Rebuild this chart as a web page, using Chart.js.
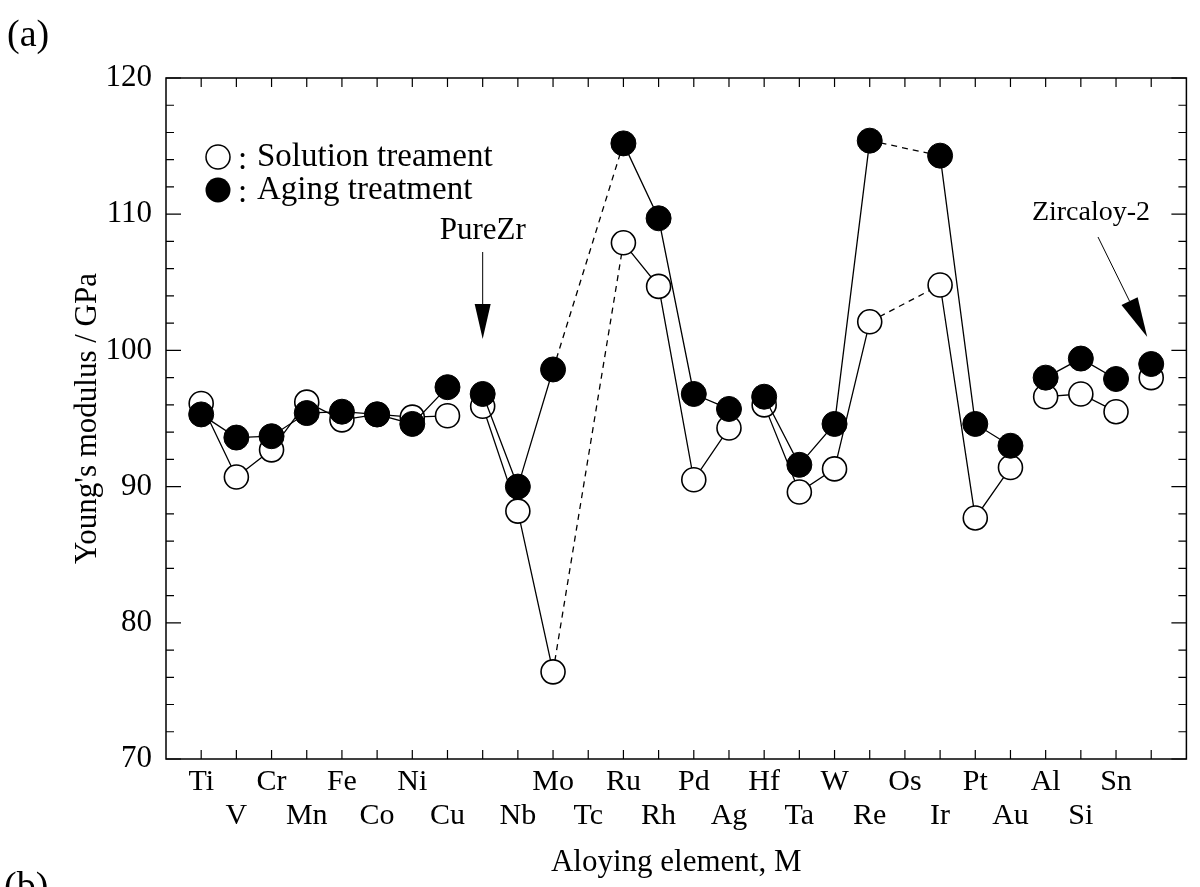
<!DOCTYPE html>
<html>
<head>
<meta charset="utf-8">
<script src="https://cdn.jsdelivr.net/npm/chart.js@4.4.1/dist/chart.umd.min.js"></script>
<style>
  html, body { margin: 0; padding: 0; background: #fff; }
  canvas { display: block; }
</style>
</head>
<body>
<canvas id="modulusChart" width="1200" height="887"></canvas>
<script>
// alloying elements, in axis order (PureZr and Zircaloy-2 have no tick label)
const elements = ["Ti", "V", "Cr", "Mn", "Fe", "Co", "Ni", "Cu", "", "Nb", "Mo", "Tc", "Ru", "Rh",
    "Pd", "Ag", "Hf", "Ta", "W", "Re", "Os", "Ir", "Pt", "Au", "Al", "Si", "Sn", ""];

// Young's modulus / GPa
const solutionTreatment = [96.1, 90.7, 92.7, 96.2, 94.9, 95.3, 95.1, 95.2, 95.9, 88.2, 76.4, null, 107.9, 104.7,
    90.5, 94.3, 96.0, 89.6, 91.3, 102.1, null, 104.8, 87.7, 91.4, 96.6, 96.8, 95.5, 98.0];
const agingTreatment = [95.3, 93.6, 93.7, 95.4, 95.5, 95.3, 94.6, 97.3, 96.8, 90.0, 98.6, null, 115.2, 109.7,
    96.8, 95.7, 96.6, 91.6, 94.6, 115.4, null, 114.3, 94.6, 93.0, 98.0, 99.4, 97.9, 99.0];

// no line drawn from these indices to the next point
const breakAfter = [7, 15, 23, 26];

const yTicks = [70, 80, 90, 100, 110, 120];

const FONT = "'Liberation Serif', 'DejaVu Serif', serif";

function toPoints(values) {
    return values.map((v, i) => ({ x: i + 1, y: v }));
}

// segments bridging a missing element (Tc, Os) are dashed
const segmentStyle = {
    borderDash: ctx => (elements[ctx.p0DataIndex] && solutionTreatment[ctx.p0DataIndex] === null ? [6, 5] : undefined),
    borderColor: ctx => (breakAfter.includes(ctx.p0DataIndex) ? "rgba(0,0,0,0)" : undefined)
};

const framePlugin = {
    id: "frame",
    afterDraw(chart) {
        const ctx = chart.ctx;
        const area = chart.chartArea;
        const xs = chart.scales.x;
        const ys = chart.scales.y;
        ctx.save();
        ctx.strokeStyle = "#000";
        ctx.lineWidth = 1.5;
        ctx.strokeRect(area.left, area.top, area.right - area.left, area.bottom - area.top);

        // inward tick marks
        ctx.lineWidth = 1.2;
        ctx.beginPath();
        for (let i = 1; i <= elements.length; i++) {
            const px = xs.getPixelForValue(i);
            ctx.moveTo(px, area.bottom);
            ctx.lineTo(px, area.bottom - 9);
            ctx.moveTo(px, area.top);
            ctx.lineTo(px, area.top + 9);
        }
        for (let v = ys.min; v <= ys.max; v += 2) {
            const py = ys.getPixelForValue(v);
            const len = v % 10 === 0 ? 15 : 8;
            ctx.moveTo(area.left, py);
            ctx.lineTo(area.left + len, py);
            ctx.moveTo(area.right, py);
            ctx.lineTo(area.right - len, py);
        }
        ctx.stroke();

        // legend
        ctx.fillStyle = "#000";
        ctx.font = "33px " + FONT;
        ctx.textBaseline = "middle";
        ctx.textAlign = "left";
        ctx.lineWidth = 1.5;
        ctx.beginPath();
        ctx.arc(218, 157, 12, 0, Math.PI * 2);
        ctx.stroke();
        ctx.beginPath();
        ctx.arc(218, 190, 12.5, 0, Math.PI * 2);
        ctx.fill();
        ctx.fillText(":", 238, 160);
        ctx.fillText("Solution treament", 257, 157);
        ctx.fillText(":", 238, 193);
        ctx.fillText("Aging treatment", 257, 190);

        // PureZr arrow
        const zrX = xs.getPixelForValue(9);
        const zrTip = ys.getPixelForValue(agingTreatment[8]) - 55;
        ctx.textAlign = "center";
        ctx.font = "31px " + FONT;
        ctx.fillText("PureZr", zrX, 231);
        ctx.lineWidth = 1;
        ctx.beginPath();
        ctx.moveTo(zrX, 252);
        ctx.lineTo(zrX, zrTip - 30);
        ctx.stroke();
        ctx.beginPath();
        ctx.moveTo(zrX, zrTip);
        ctx.lineTo(zrX - 8, zrTip - 35);
        ctx.lineTo(zrX + 8, zrTip - 35);
        ctx.closePath();
        ctx.fill();

        // Zircaloy-2 arrow
        const zcX = xs.getPixelForValue(28) - 4;
        const zcTip = ys.getPixelForValue(agingTreatment[27]) - 27;
        ctx.font = "28px " + FONT;
        ctx.fillText("Zircaloy-2", 1091, 213);
        const sx = 1098, sy = 237;
        const dx = zcX - sx, dy = zcTip - sy;
        const len = Math.hypot(dx, dy);
        const ux = dx / len, uy = dy / len;
        const bx = zcX - ux * 40, by = zcTip - uy * 40;
        ctx.beginPath();
        ctx.moveTo(sx, sy);
        ctx.lineTo(bx, by);
        ctx.stroke();
        ctx.beginPath();
        ctx.moveTo(zcX, zcTip);
        ctx.lineTo(bx - uy * 9, by + ux * 9);
        ctx.lineTo(bx + uy * 9, by - ux * 9);
        ctx.closePath();
        ctx.fill();

        // panel labels
        ctx.textAlign = "left";
        ctx.textBaseline = "alphabetic";
        ctx.font = "38px " + FONT;
        ctx.fillText("(a)", 7, 46);
        ctx.fillText("(b)", 4, 898);
        ctx.restore();
    }
};

new Chart("modulusChart", {
    type: "line",
    data: {
        datasets: [{
            label: "Aging treatment",
            data: toPoints(agingTreatment),
            order: 0,
            borderColor: "#000",
            borderWidth: 1.3,
            pointRadius: 12.5,
            pointBackgroundColor: "#000",
            pointBorderColor: "#000",
            pointBorderWidth: 1,
            spanGaps: true,
            segment: segmentStyle
        },
        {
            label: "Solution treament",
            data: toPoints(solutionTreatment),
            order: 1,
            borderColor: "#000",
            borderWidth: 1.3,
            pointRadius: 12,
            pointBackgroundColor: "#fff",
            pointBorderColor: "#000",
            pointBorderWidth: 1.6,
            spanGaps: true,
            segment: segmentStyle
        }]
    },
    options: {
        responsive: false,
        animation: false,
        devicePixelRatio: 1,
        layout: { padding: { top: 78, right: 2, left: 0, bottom: 0 } },
        plugins: {
            legend: { display: false },
            tooltip: { enabled: false }
        },
        scales: {
            x: {
                type: "linear",
                min: 0,
                max: elements.length + 1,
                grid: { display: false, drawTicks: false },
                border: { display: false },
                ticks: {
                    stepSize: 1,
                    autoSkip: false,
                    maxRotation: 0,
                    padding: 6,
                    color: "#000",
                    font: { family: FONT, size: 30, lineHeight: 1.13 },
                    callback: (v) => {
                        const name = elements[v - 1];
                        if (!name) return "";
                        return (v - 1) % 2 === 0 ? [name, ""] : ["", name];
                    }
                },
                title: {
                    display: true,
                    text: "Aloying element, M",
                    color: "#000",
                    font: { family: FONT, size: 31, lineHeight: 1.2 },
                    padding: { top: 0, bottom: 6 }
                },
                afterFit: (scale) => { scale.height = 128; }
            },
            y: {
                min: 70,
                max: 120,
                grid: { display: false, drawTicks: false },
                border: { display: false },
                ticks: {
                    stepSize: 10,
                    padding: 14,
                    color: "#000",
                    font: { family: FONT, size: 31 },
                    callback: (v) => (yTicks.includes(v) ? String(v) : "")
                },
                title: {
                    display: true,
                    text: "Young's modulus / GPa",
                    color: "#000",
                    font: { family: FONT, size: 31, lineHeight: 1.2 },
                    padding: { top: 69, bottom: 0 }
                },
                afterFit: (scale) => { scale.width = 166; }
            }
        }
    },
    plugins: [framePlugin]
});
</script>
</body>
</html>
